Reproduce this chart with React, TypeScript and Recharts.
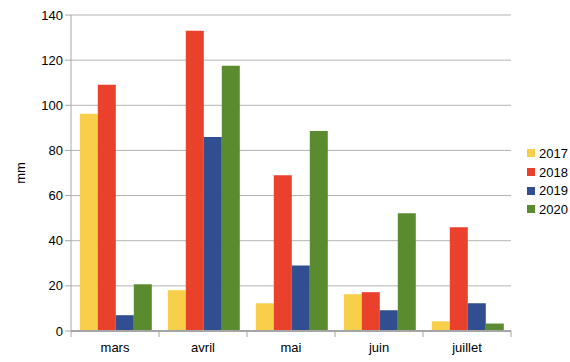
import { BarChart, Bar, XAxis, YAxis, CartesianGrid } from "recharts"

// Précipitations mensuelles (mm)
const months = ["mars", "avril", "mai", "juin", "juillet"]
const years = ["2017", "2018", "2019", "2020"]
const colors = ["#f8cf4b", "#e9412b", "#314f90", "#5a8c2f"]

const rain2017 = [96.2, 18.1, 12.3, 16.3, 4.3]
const rain2018 = [109.1, 133.0, 69.0, 17.2, 46.0]
const rain2019 = [7.0, 86.0, 29.0, 9.2, 12.3]
const rain2020 = [20.7, 117.5, 88.6, 52.2, 3.3]

const yTicks = [0, 20, 40, 60, 80, 100, 120, 140]

const seriesValues = [rain2017, rain2018, rain2019, rain2020]

const data = months.map((m, i) => {
    const row: any = { month: m }
    years.forEach((y, k) => { row[y] = seriesValues[k][i] })
    return row
})

const font = "'Liberation Sans', Arial, sans-serif"
const axisGray = "#a6a6a6"

const MonthTick = (props: any) => {
    const { x, y, payload, index } = props
    const half = payload && payload.offset ? payload.offset : 44
    const base = y - 8
    return (
        <g>
            <line x1={x - half} x2={x - half} y1={base} y2={base + 6} stroke={axisGray} />
            {index === months.length - 1 && (
                <line x1={x + half} x2={x + half} y1={base} y2={base + 6} stroke={axisGray} />
            )}
            <text x={x} y={y} dy="1em" textAnchor="middle" fill="#000" fontSize={13} fontFamily={font}>
                {payload.value}
            </text>
        </g>
    )
}

export default function App() {
    return (
        <div style={{ position: "fixed", left: 0, top: 0, width: 570, height: 362, background: "#fff" }}>
            <BarChart
                width={570}
                height={362}
                data={data}
                margin={{ top: 15, right: 59, bottom: 1, left: 11 }}
                barCategoryGap="10%"
                barGap={0}
            >
                <CartesianGrid vertical={false} stroke="#b3b3b3" />
                <XAxis
                    dataKey="month"
                    height={30}
                    tickLine={false}
                    axisLine={{ stroke: axisGray, strokeWidth: 2 }}
                    tick={<MonthTick />}
                    interval={0}
                />
                <YAxis
                    width={60}
                    domain={[0, 140]}
                    ticks={yTicks}
                    interval={0}
                    tickSize={6}
                    tickLine={{ stroke: axisGray }}
                    axisLine={{ stroke: axisGray }}
                    tick={{ fill: "#000", fontSize: 13, fontFamily: font }}
                    label={{
                        value: "mm",
                        angle: -90,
                        position: "insideLeft",
                        offset: 9,
                        style: { textAnchor: "middle", fill: "#000", fontSize: 13, fontFamily: font },
                    }}
                />
                <YAxis
                    yAxisId="r"
                    orientation="right"
                    width={0}
                    domain={[0, 140]}
                    tick={false}
                    tickLine={false}
                    axisLine={{ stroke: axisGray }}
                />
                {years.map((y, k) => (
                    <Bar key={y} dataKey={y} fill={colors[k]} isAnimationActive={false} />
                ))}
            </BarChart>
            <div style={{ position: "absolute", left: 527, top: 144, fontFamily: font, fontSize: 13, color: "#000" }}>
                {years.map((y, k) => (
                    <div key={y} style={{ display: "flex", alignItems: "center", height: 18.7 }}>
                        <div style={{ width: 8, height: 8, background: colors[k], marginRight: 4 }} />
                        <span>{y}</span>
                    </div>
                ))}
            </div>
        </div>
    )
}
